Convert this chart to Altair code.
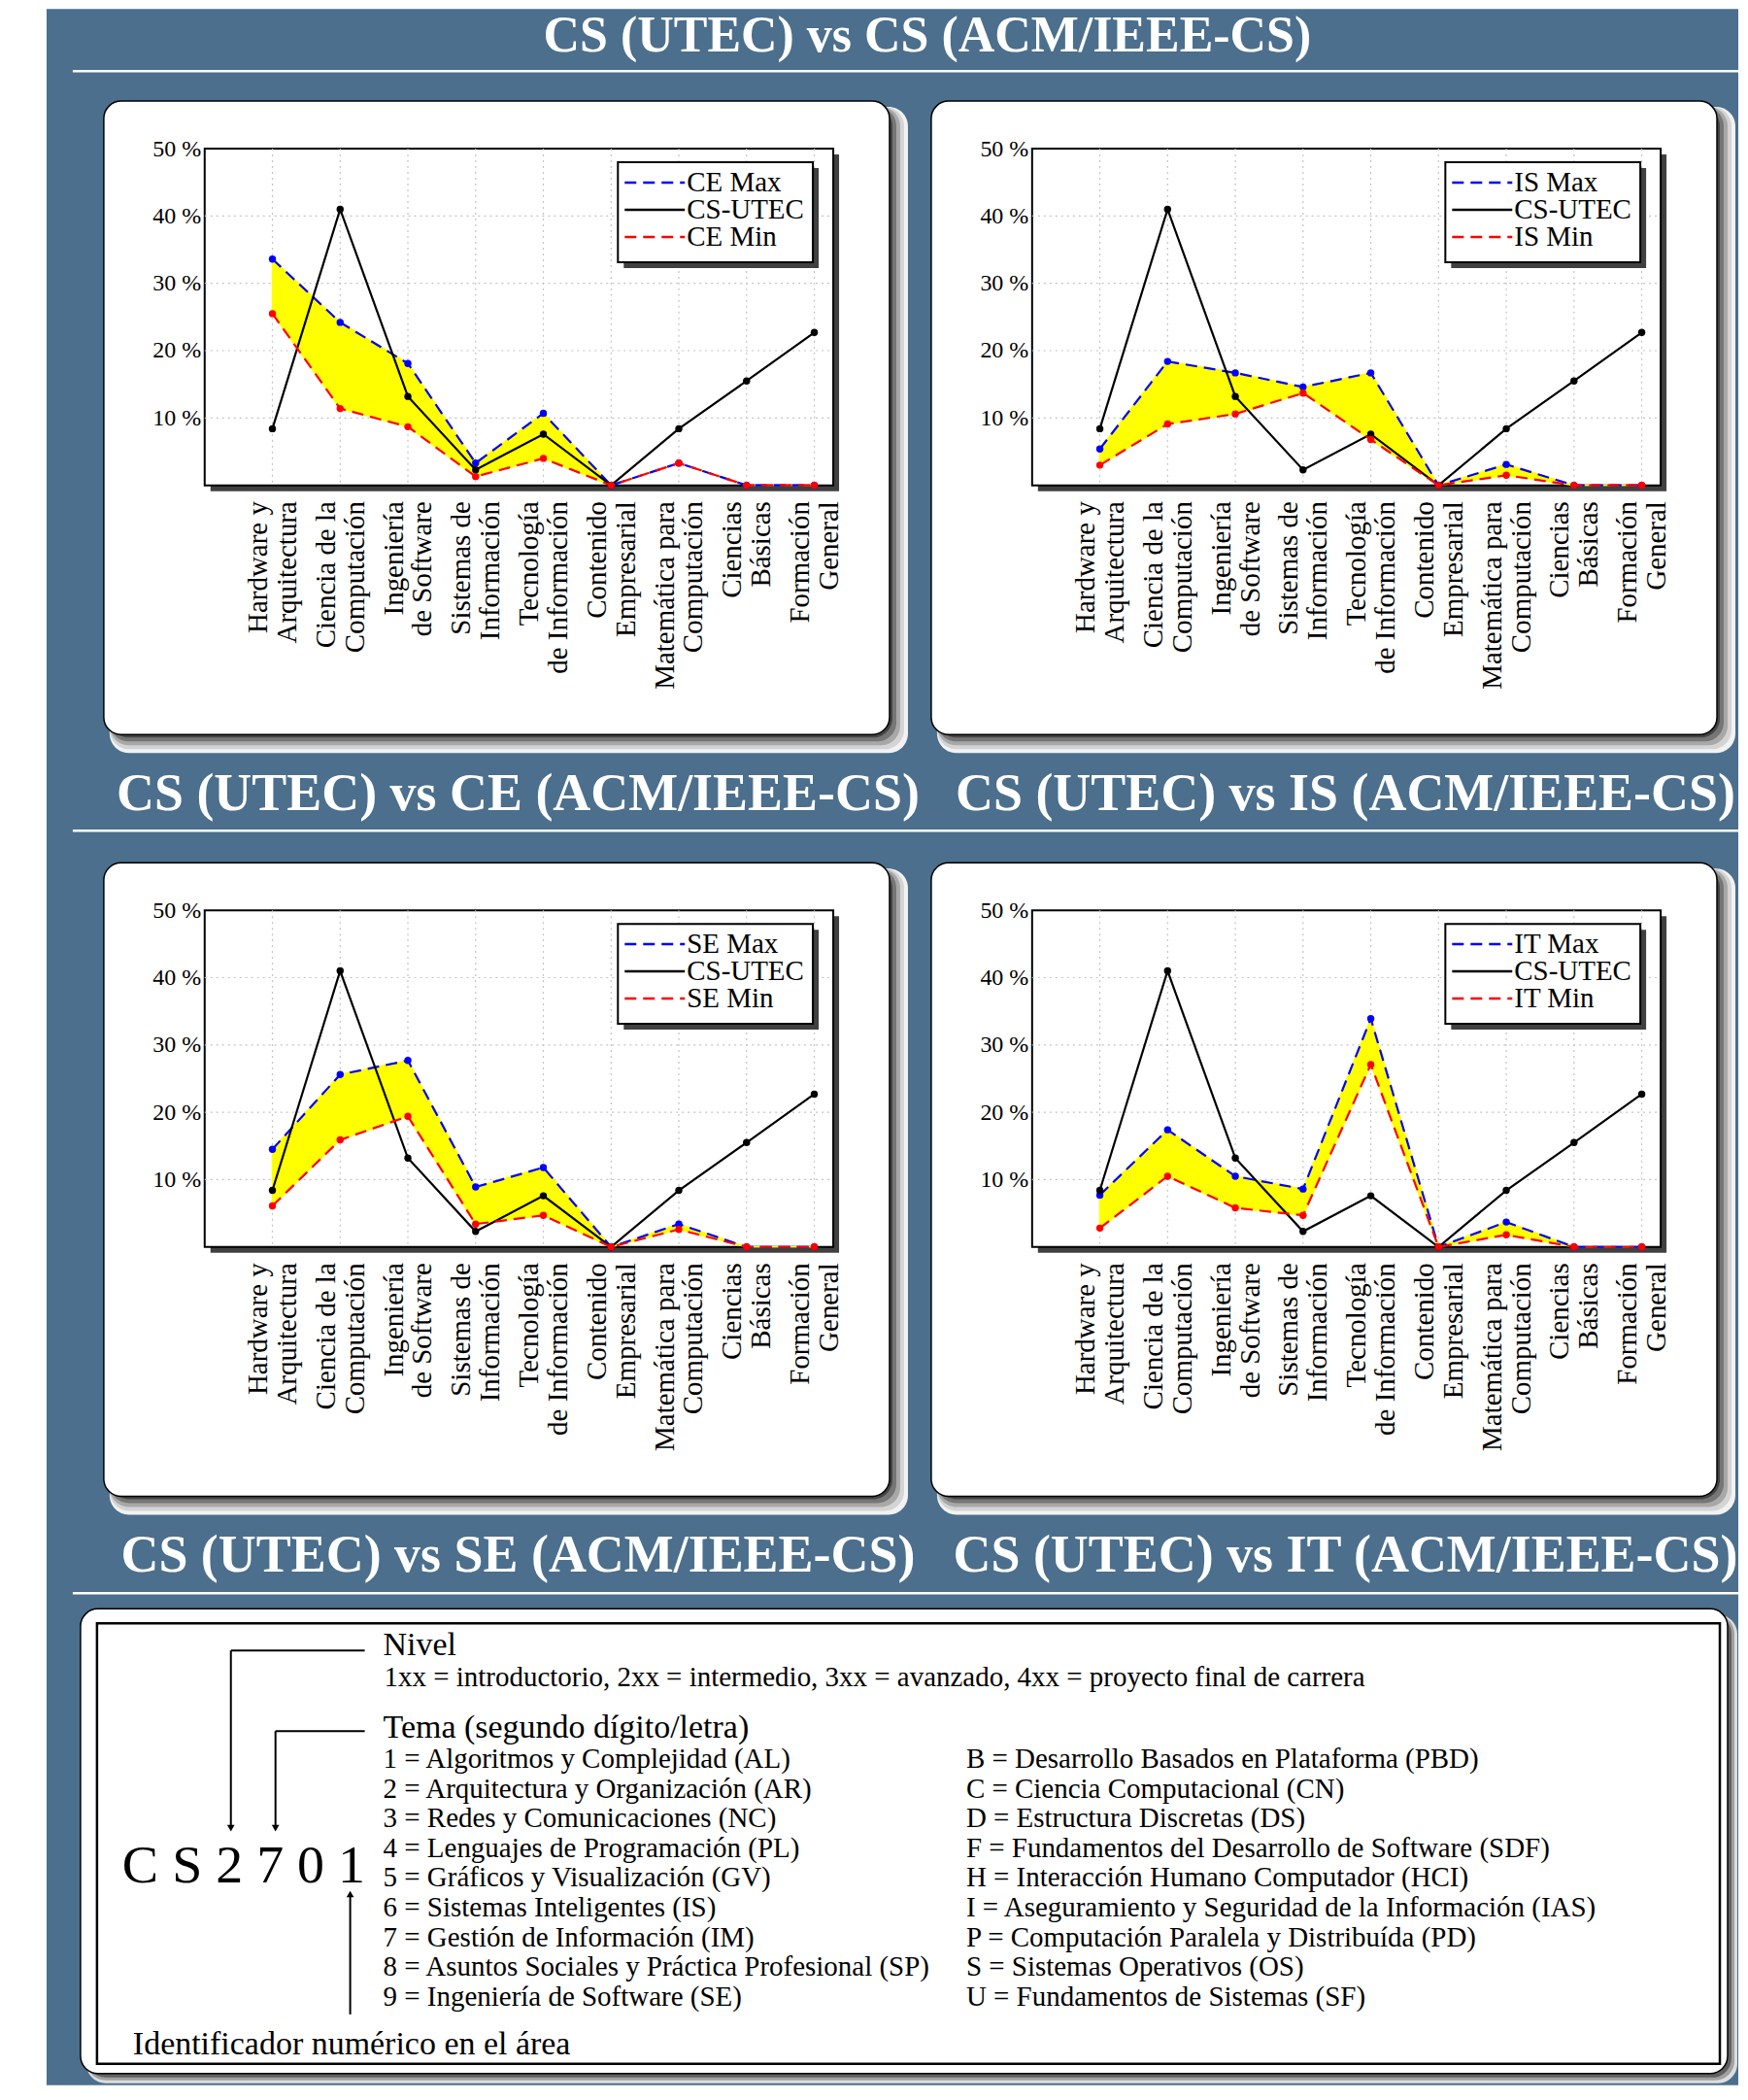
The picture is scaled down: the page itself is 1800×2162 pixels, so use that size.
import json
import altair as alt
import pandas as pd

# ---------------- data ----------------
categories = [
    ["Hardware y", "Arquitectura"],
    ["Ciencia de la", "Computación"],
    ["Ingeniería", "de Software"],
    ["Sistemas de", "Información"],
    ["Tecnología", "de Información"],
    ["Contenido", "Empresarial"],
    ["Matemática para", "Computación"],
    ["Ciencias", "Básicas"],
    ["Formación", "General"],
]
cs_utec = [8.4, 41.0, 13.2, 2.3, 7.6, 0.0, 8.4, 15.5, 22.7]
ce_max = [33.6, 24.2, 18.1, 3.3, 10.7, 0.0, 3.3, 0.0, 0.0]
ce_min = [25.5, 11.4, 8.7, 1.3, 4.0, 0.0, 3.3, 0.0, 0.0]
is_max = [5.4, 18.4, 16.7, 14.6, 16.7, 0.0, 3.1, 0.0, 0.0]
is_min = [3.0, 9.1, 10.6, 13.7, 6.8, 0.0, 1.5, 0.0, 0.0]
se_max = [14.5, 25.6, 27.7, 8.9, 11.8, 0.0, 3.4, 0.0, 0.0]
se_min = [6.1, 15.9, 19.4, 3.4, 4.7, 0.0, 2.6, 0.0, 0.0]
it_max = [7.7, 17.4, 10.5, 8.6, 33.9, 0.0, 3.7, 0.0, 0.0]
it_min = [2.8, 10.5, 5.8, 4.7, 27.1, 0.0, 1.8, 0.0, 0.0]

y_tick_values = [10, 20, 30, 40, 50]
grid_y_values = [10, 20, 30, 40]

main_title = "CS (UTEC) vs CS (ACM/IEEE-CS)"
nivel_title = "Nivel"
nivel_text = "1xx = introductorio, 2xx = intermedio, 3xx = avanzado, 4xx = proyecto final de carrera"
tema_title = "Tema (segundo dígito/letra)"
tema_left = [
    "1 = Algoritmos y Complejidad (AL)",
    "2 = Arquitectura y Organización (AR)",
    "3 = Redes y Comunicaciones (NC)",
    "4 = Lenguajes de Programación (PL)",
    "5 = Gráficos y Visualización (GV)",
    "6 = Sistemas Inteligentes (IS)",
    "7 = Gestión de Información (IM)",
    "8 = Asuntos Sociales y Práctica Profesional (SP)",
    "9 = Ingeniería de Software (SE)",
]
tema_right = [
    "B = Desarrollo Basados en Plataforma (PBD)",
    "C = Ciencia Computacional (CN)",
    "D = Estructura Discretas (DS)",
    "F = Fundamentos del Desarrollo de Software (SDF)",
    "H = Interacción Humano Computador (HCI)",
    "I = Aseguramiento y Seguridad de la Información (IAS)",
    "P = Computación Paralela y Distribuída (PD)",
    "S = Sistemas Operativos (OS)",
    "U = Fundamentos de Sistemas (SF)",
]
code_example = "C S 2 7 0 1"
ident_text = "Identificador numérico en el área"

# ---------------- style ----------------
FONT = "Liberation Serif"
BLUE = "#4b6f8d"
W, H = 648, 347
ONE = pd.DataFrame({"k": [0]})
positions = list(range(1, len(categories) + 1))

label_expr = json.dumps(categories, ensure_ascii=False) + "[datum.value - 1]"

x_scale = alt.Scale(domain=[0, 9.28], nice=False, zero=False)
y_scale = alt.Scale(domain=[0, 50], nice=False)
x_axis = alt.Axis(values=positions, labelExpr=label_expr, labelAngle=270,
                  labelFont=FONT, labelFontSize=29, labelLineHeight=30,
                  labelOffset=-15, labelPadding=16, labelColor="black",
                  labelOverlap=False, labelFlush=False, labelLimit=500,
                  grid=False, domain=False, ticks=False, title=None, zindex=1)
y_axis = alt.Axis(values=y_tick_values, labelExpr="datum.value + ' %'",
                  labelFont=FONT, labelFontSize=24, labelPadding=4,
                  labelColor="black", grid=False, domain=False, ticks=False,
                  title=None, zindex=1)


def rect(x1, x2, y1, y2, **kw):
    return alt.Chart(ONE).mark_rect(**kw).encode(
        x=alt.value(x1), x2=alt.value(x2), y=alt.value(y1), y2=alt.value(y2))


def seg(x1, x2, y1, y2=None, **kw):
    enc = dict(x=alt.value(x1), x2=alt.value(x2), y=alt.value(y1))
    if y2 is not None:
        enc["y2"] = alt.value(y2)
    return alt.Chart(ONE).mark_rule(**kw).encode(**enc)


def txt(s, x, y, **kw):
    return alt.Chart(ONE).mark_text(text=s, font=FONT, **kw).encode(
        x=alt.value(x), y=alt.value(y))


def card(x1, x2, y1, y2, bands, r=18):
    out = []
    for d, col in bands:
        out.append(rect(x1 + 6, x2 + d, y1 + 6, y2 + d, fill=col, cornerRadius=r + 2))
    out.append(rect(x1, x2, y1, y2, fill="white", stroke="black",
                    strokeWidth=1.5, cornerRadius=r))
    return out


CARD_BANDS = [(19, "#f2f2f2"), (15, "#d4d4d4"), (11, "#a8a8a8"),
              (7, "#767676"), (3, "#444444")]


def panel(code, mx, mn, front=()):
    df = pd.DataFrame({"pos": positions, "mx": mx, "mn": mn, "ut": cs_utec})
    X = alt.X("pos:Q", scale=x_scale, axis=x_axis)

    def Y(f):
        return alt.Y(f + ":Q", scale=y_scale, axis=y_axis)

    base = alt.Chart(df)
    layers = list(front)
    layers += card(-104, 706, -49, 604, CARD_BANDS)
    layers.append(txt(f"CS (UTEC) vs {code} (ACM/IEEE-CS)", 323, 666,
                      fontSize=54, fontWeight="bold", color="white",
                      align="center", baseline="middle"))
    layers.append(rect(6, W + 6, 6, H + 6, fill="#404040"))
    layers.append(rect(0, W, 0, H, fill="white", stroke="black", strokeWidth=2))
    # grid
    layers.append(alt.Chart(pd.DataFrame({"g": grid_y_values})).mark_rule(
        color="#c4c4c4", strokeDash=[2, 4], strokeWidth=1.2).encode(
        y=Y("g"), x=alt.value(0), x2=alt.value(W)))
    layers.append(alt.Chart(pd.DataFrame({"pos": positions})).mark_rule(
        color="#c4c4c4", strokeDash=[2, 4], strokeWidth=1.2).encode(
        x=X, y=alt.value(0), y2=alt.value(H)))
    # band
    layers.append(base.mark_area(color="#ffff00", stroke="#ffff00",
                                 strokeWidth=1.5, opacity=1).encode(
        x=X, y=Y("mx"), y2="mn"))
    # series
    for f, col, dash in [("mx", "#0000ff", [12, 7]), ("ut", "black", None),
                         ("mn", "#ff0000", [12, 7])]:
        kw = dict(color=col, strokeWidth=2.2)
        if dash:
            kw["strokeDash"] = dash
        layers.append(base.mark_line(**kw).encode(x=X, y=Y(f)))
        layers.append(base.mark_circle(color=col, size=55, opacity=1).encode(
            x=X, y=Y(f)))
    # legend
    layers.append(rect(432, 633, 20, 123, fill="#404040"))
    layers.append(rect(426, 627, 14, 117, fill="white", stroke="black", strokeWidth=2))
    items = [(f"{code} Max", "#0000ff", [12, 7]), ("CS-UTEC", "black", None),
             (f"{code} Min", "#ff0000", [12, 7])]
    for (name, col, dash), yy in zip(items, [35, 63, 91]):
        kw = dict(color=col, strokeWidth=2.5)
        if dash:
            kw["strokeDash"] = dash
        layers.append(seg(433, 495, yy, **kw))
        layers.append(txt(name, 497, yy, fontSize=29, align="left",
                          baseline="middle", color="black"))
    return alt.layer(*layers).properties(width=W, height=H)


front_first = [
    rect(-203, -163, -144, 1996, fill="white"),
    rect(-163, 1581, -144, 1996, fill=BLUE),
    txt(main_title, 745, -116, fontSize=52, fontWeight="bold", color="white",
        align="center", baseline="middle"),
    seg(-136, 1581, -80, color="white", strokeWidth=2.5),
    seg(-136, 1581, 703, color="white", strokeWidth=2.5),
]
front_second = [seg(-136, 1581, 704, color="white", strokeWidth=2.5)]

p_ce = panel("CE", ce_max, ce_min, front_first)
p_is = panel("IS", is_max, is_min)
p_se = panel("SE", se_max, se_min, front_second)
p_it = panel("IT", it_max, it_min)

# ---------------- code legend box ----------------
box_layers = card(-128, 1570, -65, 414,
                  [(10, "#dddddd"), (7, "#a0a0a0"), (4, "#606060")])
box_layers.append(rect(-111, 1562, -50, 404, fill="white", stroke="black",
                       strokeWidth=2.5))
box_layers.append(txt(nivel_title, 184, -27, fontSize=34, align="left",
                      baseline="middle", color="black"))
box_layers.append(txt(nivel_text, 185, 6, fontSize=29, align="left",
                      baseline="middle", color="black"))
box_layers.append(txt(tema_title, 184, 58, fontSize=34, align="left",
                      baseline="middle", color="black"))
row_scale = alt.Scale(domain=[0, 8], range=[90, 90 + 30.6 * 8])
for items, xx in [(tema_left, 184), (tema_right, 785)]:
    dfl = pd.DataFrame({"t": items, "i": list(range(len(items)))})
    box_layers.append(alt.Chart(dfl).mark_text(
        font=FONT, fontSize=29, align="left", baseline="middle", color="black").encode(
        text="t:N", x=alt.value(xx), y=alt.Y("i:Q", scale=row_scale, axis=None)))
box_layers.append(txt(code_example, -85, 200, fontSize=56, align="left",
                      baseline="middle", color="black"))
box_layers.append(txt(ident_text, -74, 384, fontSize=34, align="left",
                      baseline="middle", color="black"))
# arrows
box_layers += [
    seg(27, 165, -22, color="black", strokeWidth=2),
    seg(27, 27, -22, 158, color="black", strokeWidth=2),
    seg(73, 165, 61, color="black", strokeWidth=2),
    seg(73, 73, 61, 158, color="black", strokeWidth=2),
    seg(150, 150, 232, 353, color="black", strokeWidth=2),
]
for xx, yy, shp in [(27, 161, "triangle-down"), (73, 161, "triangle-down"),
                    (150, 229, "triangle-up")]:
    box_layers.append(alt.Chart(ONE).mark_point(
        shape=shp, filled=True, color="black", size=60, opacity=1).encode(
        x=alt.value(xx), y=alt.value(yy)))
box = alt.layer(*box_layers).properties(width=W, height=10)

row1 = alt.hconcat(p_ce, p_is, spacing=205, bounds="flush")
row2 = alt.hconcat(p_se, p_it, spacing=205, bounds="flush")
# nested concat rows have no fixed height under flush bounds, so the spacing
# is the full offset from one row's plot top to the next
chart = alt.vconcat(row1, row2, box, spacing=785, bounds="flush").properties(
    background="white", padding=0).configure_view(stroke=None)

chart.save("out.html", embed_options={"renderer": "svg", "actions": False})
